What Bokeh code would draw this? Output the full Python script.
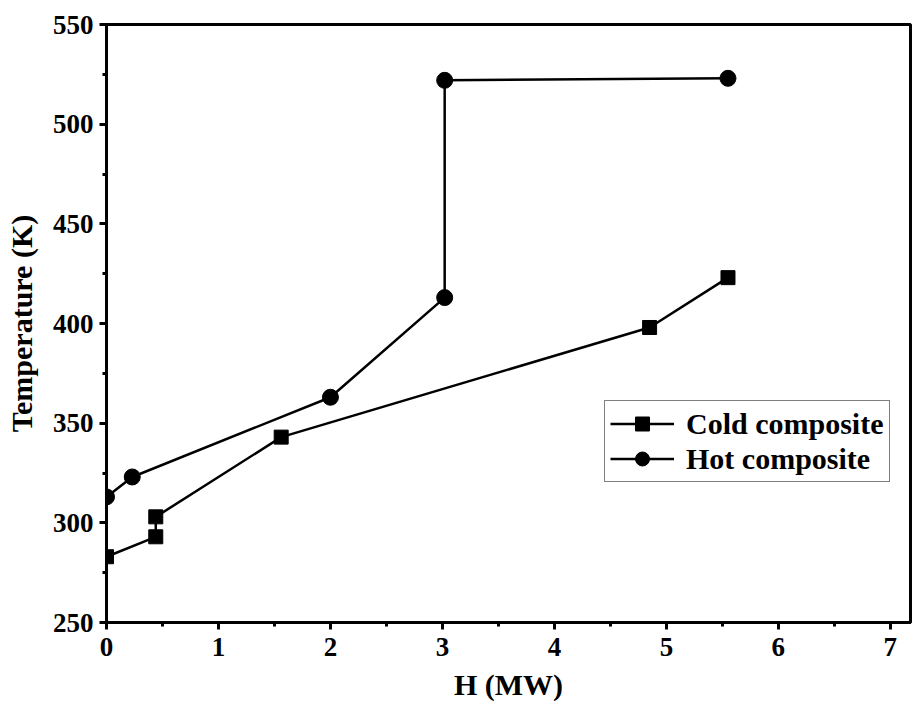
from bokeh.plotting import figure
from bokeh.embed import file_html
from bokeh.resources import INLINE
from bokeh.models import Range1d, FixedTicker, Legend, LegendItem

cold_h = [0.0, 0.44, 0.44, 1.56, 4.85, 5.55]
cold_t = [283, 293, 303, 343, 398, 423]
hot_h = [0.0, 0.23, 2.0, 3.02, 3.02, 5.55]
hot_t = [313, 323, 363, 413, 522, 523]

x_ticks = [0, 1, 2, 3, 4, 5, 6, 7]
y_ticks = [250, 300, 350, 400, 450, 500, 550]

FONT = "Liberation Serif"

p = figure(width=912, height=711, output_backend="svg", toolbar_location=None,
           x_range=Range1d(0, 7.18), y_range=Range1d(250, 550),
           min_border_left=106, min_border_right=2, min_border_top=24, min_border_bottom=89)
p.grid.visible = False
p.outline_line_color = "black"
p.outline_line_width = 3

for ax in (p.xaxis[0], p.yaxis[0]):
    ax.axis_line_width = 3
    ax.major_tick_line_width = 3
    ax.minor_tick_line_width = 3
    ax.major_tick_out = 7
    ax.major_tick_in = 0
    ax.minor_tick_out = 4
    ax.minor_tick_in = 0
    ax.major_label_text_font = FONT
    ax.major_label_text_font_style = "bold"
    ax.major_label_text_font_size = "27px"
    ax.major_label_text_color = "black"
    ax.axis_label_text_font = FONT
    ax.axis_label_text_font_style = "bold"
    ax.axis_label_text_font_size = "30px"
    ax.axis_label_text_color = "black"

p.xaxis.ticker = FixedTicker(ticks=x_ticks, minor_ticks=[x + 0.5 for x in x_ticks])
p.yaxis.ticker = FixedTicker(ticks=y_ticks, minor_ticks=[y + 25 for y in y_ticks])
p.xaxis.axis_label = "H (MW)"
p.yaxis.axis_label = "Temperature (K)"
p.xaxis.axis_label_standoff = 9
p.yaxis.axis_label_standoff = 12
p.xaxis.major_label_standoff = 8
p.yaxis.major_label_standoff = 6

cl = p.line(cold_h, cold_t, line_color="black", line_width=2.5)
cs = p.scatter(cold_h, cold_t, marker="square", size=14, fill_color="black", line_color="black")
hl = p.line(hot_h, hot_t, line_color="black", line_width=2.5)
hs = p.scatter(hot_h, hot_t, marker="circle", size=16, fill_color="black", line_color="black")

legend = Legend(items=[LegendItem(label="Cold composite", renderers=[cl, cs]),
                       LegendItem(label="Hot composite", renderers=[hl, hs])],
                location=(498, 140))
legend.border_line_color = "black"
legend.border_line_width = 1
legend.label_text_font = FONT
legend.label_text_font_style = "bold"
legend.label_text_font_size = "30px"
legend.label_text_color = "black"
legend.glyph_width = 64
legend.glyph_height = 35
legend.spacing = 0
legend.padding = 5
legend.margin = 0
legend.label_standoff = 12
p.add_layout(legend)

open("out.html", "w").write(file_html(p, INLINE))
